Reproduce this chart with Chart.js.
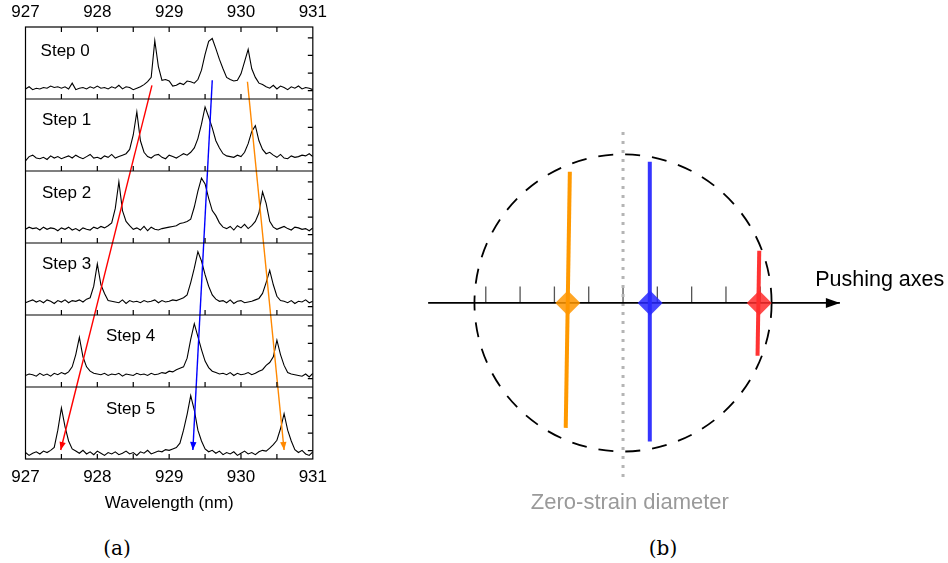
<!DOCTYPE html>
<html>
<head>
<meta charset="utf-8">
<script src="https://cdn.jsdelivr.net/npm/chart.js@4.4.1/dist/chart.umd.min.js"></script>
<style>
  body { margin: 0; background: #fff; width: 948px; height: 563px; position: relative; overflow: hidden; }
  #specs { position: absolute; left: 0; top: 0; }
  #sketch { position: absolute; left: 400px; top: 97px; }
  .cap { position: absolute; top: 536px; width: 100px; text-align: center; line-height: 24px;
         font-family: "DejaVu Serif", "Liberation Serif", serif; font-size: 20px; color: #000; }
</style>
</head>
<body>
<canvas id="specs" width="335" height="520"></canvas>
<canvas id="sketch" width="549" height="429"></canvas>
<div class="cap" style="left:67px">(a)</div>
<div class="cap" style="left:613px">(b)</div>
<script>
// ---- panel (a): spectra, normalised to the height of each step panel ----
const wavelength = [
  927.00, 927.05, 927.10, 927.15, 927.20, 927.25, 927.30, 927.35, 927.40, 927.45,
  927.50, 927.55, 927.60, 927.65, 927.70, 927.75, 927.80, 927.85, 927.90, 927.95,
  928.00, 928.05, 928.10, 928.15, 928.20, 928.25, 928.30, 928.35, 928.40, 928.45,
  928.50, 928.55, 928.60, 928.65, 928.70, 928.75, 928.80, 928.85, 928.90, 928.95,
  929.00, 929.05, 929.10, 929.15, 929.20, 929.25, 929.30, 929.35, 929.40, 929.45,
  929.50, 929.55, 929.60, 929.65, 929.70, 929.75, 929.80, 929.85, 929.90, 929.95,
  930.00, 930.05, 930.10, 930.15, 930.20, 930.25, 930.30, 930.35, 930.40, 930.45,
  930.50, 930.55, 930.60, 930.65, 930.70, 930.75, 930.80, 930.85, 930.90, 930.95,
  931.00
];

const step0 = [
  0.14, 0.17, 0.13, 0.15, 0.14, 0.16, 0.15, 0.18, 0.16, 0.17,
  0.15, 0.17, 0.14, 0.22, 0.13, 0.15, 0.16, 0.14, 0.17, 0.15,
  0.18, 0.15, 0.16, 0.14, 0.17, 0.15, 0.19, 0.14, 0.17, 0.16,
  0.13, 0.15, 0.17, 0.20, 0.24, 0.30, 0.81, 0.45, 0.26, 0.27,
  0.25, 0.18, 0.19, 0.22, 0.20, 0.25, 0.24, 0.22, 0.27, 0.40,
  0.62, 0.80, 0.84, 0.70, 0.55, 0.42, 0.30, 0.27, 0.25, 0.26,
  0.35, 0.52, 0.69, 0.42, 0.30, 0.22, 0.20, 0.17, 0.15, 0.19,
  0.14, 0.18, 0.16, 0.13, 0.17, 0.15, 0.18, 0.14, 0.16, 0.15,
  0.13
];
const step1 = [
  0.14, 0.20, 0.22, 0.18, 0.17, 0.19, 0.16, 0.21, 0.18, 0.20,
  0.17, 0.19, 0.21, 0.18, 0.22, 0.19, 0.17, 0.20, 0.23, 0.18,
  0.19, 0.17, 0.21, 0.19, 0.23, 0.18, 0.20, 0.22, 0.24, 0.30,
  0.50, 0.82, 0.42, 0.26, 0.20, 0.18, 0.22, 0.23, 0.19, 0.17,
  0.22, 0.20, 0.18, 0.21, 0.24, 0.22, 0.26, 0.32, 0.45, 0.65,
  0.89, 0.75, 0.60, 0.42, 0.32, 0.24, 0.21, 0.20, 0.19, 0.22,
  0.20, 0.26, 0.38, 0.55, 0.63, 0.42, 0.30, 0.24, 0.26, 0.22,
  0.19, 0.23, 0.18, 0.17, 0.21, 0.19, 0.20, 0.22, 0.21, 0.24,
  0.20
];
const step2 = [
  0.19, 0.22, 0.20, 0.21, 0.18, 0.22, 0.19, 0.21, 0.20, 0.17,
  0.21, 0.19, 0.22, 0.18, 0.20, 0.17, 0.21, 0.19, 0.18, 0.22,
  0.20, 0.23, 0.21, 0.24, 0.28, 0.48, 0.85, 0.45, 0.30, 0.24,
  0.19, 0.21, 0.18, 0.23, 0.17, 0.22, 0.19, 0.18, 0.20, 0.21,
  0.22, 0.23, 0.24, 0.27, 0.28, 0.30, 0.33, 0.50, 0.72, 0.90,
  0.82, 0.62, 0.45, 0.38, 0.28, 0.22, 0.20, 0.23, 0.18, 0.24,
  0.21, 0.26, 0.20, 0.24, 0.30, 0.42, 0.71, 0.55, 0.30, 0.22,
  0.19, 0.21, 0.23, 0.20, 0.18, 0.22, 0.21, 0.19, 0.20, 0.17,
  0.21
];
const step3 = [
  0.17, 0.19, 0.21, 0.18, 0.20, 0.17, 0.21, 0.19, 0.16, 0.20,
  0.18, 0.21, 0.17, 0.20, 0.19, 0.21, 0.18, 0.22, 0.24, 0.40,
  0.71, 0.42, 0.30, 0.20, 0.19, 0.18, 0.17, 0.21, 0.16, 0.20,
  0.18, 0.19, 0.17, 0.20, 0.18, 0.19, 0.21, 0.17, 0.20, 0.18,
  0.19, 0.21, 0.20, 0.22, 0.24, 0.28, 0.45, 0.65, 0.88, 0.75,
  0.56, 0.40, 0.28, 0.22, 0.19, 0.20, 0.17, 0.21, 0.16, 0.19,
  0.20, 0.17, 0.18, 0.19, 0.21, 0.23, 0.30, 0.45, 0.62, 0.42,
  0.26, 0.20, 0.19, 0.17, 0.20, 0.16, 0.19, 0.18, 0.21, 0.17,
  0.19
];
const step4 = [
  0.16, 0.18, 0.17, 0.15, 0.19, 0.16, 0.18, 0.15, 0.19, 0.17,
  0.20, 0.18, 0.21, 0.28, 0.45, 0.69, 0.42, 0.28, 0.22, 0.19,
  0.18, 0.17, 0.19, 0.16, 0.18, 0.17, 0.19, 0.15, 0.18, 0.17,
  0.16, 0.19, 0.17, 0.18, 0.16, 0.19, 0.17, 0.18, 0.20, 0.19,
  0.22, 0.21, 0.24, 0.26, 0.28, 0.40, 0.66, 0.88, 0.70, 0.52,
  0.36, 0.27, 0.22, 0.20, 0.18, 0.19, 0.17, 0.20, 0.16, 0.19,
  0.17, 0.18, 0.20, 0.17, 0.19, 0.22, 0.24, 0.30, 0.34, 0.42,
  0.65, 0.45, 0.30, 0.20, 0.18, 0.17, 0.16, 0.15, 0.18, 0.14,
  0.19
];
const step5 = [
  0.09, 0.05, 0.08, 0.10, 0.07, 0.11, 0.09, 0.12, 0.16, 0.40,
  0.71, 0.45, 0.25, 0.14, 0.11, 0.08, 0.12, 0.07, 0.10, 0.06,
  0.11, 0.08, 0.05, 0.09, 0.07, 0.10, 0.06, 0.08, 0.11, 0.07,
  0.09, 0.05, 0.10, 0.08, 0.12, 0.07, 0.09, 0.11, 0.10, 0.13,
  0.12, 0.14, 0.16, 0.22, 0.40, 0.62, 0.88, 0.68, 0.40, 0.25,
  0.14, 0.10, 0.12, 0.08, 0.11, 0.06, 0.09, 0.07, 0.10, 0.05,
  0.08, 0.11, 0.07, 0.09, 0.06, 0.10, 0.12, 0.11, 0.15, 0.20,
  0.26, 0.42, 0.63, 0.40, 0.25, 0.13, 0.09, 0.12, 0.07, 0.05,
  0.10
];

const steps = [step0, step1, step2, step3, step4, step5];
const stepNames = ['Step 0', 'Step 1', 'Step 2', 'Step 3', 'Step 4', 'Step 5'];
const stepNameX = [927.21, 927.23, 927.23, 927.23, 928.12, 928.12];
const stepNameY = [0.66, 0.70, 0.69, 0.71, 0.70, 0.69];

const wlTicks = [927, 928, 929, 930, 931];
const wlMinor = [927.5, 928, 928.5, 929, 929.5, 930, 930.5];
const sideTicks = [0.115, 0.36, 0.605, 0.85];

// peak-tracking arrows: [start, end]
const redArrowX = [928.76, 927.49];
const redArrowY = [5.19, 0.125];
const blueArrowX = [929.60, 929.33];
const blueArrowY = [5.26, 0.125];
const orangeArrowX = [930.09, 930.60];
const orangeArrowY = [5.24, 0.125];

// ---- panel (b): sketch in tick units ----
const circleRadius = 4.33;
const axisX = [-5.68, 6.32];
const axisTicks = [-4, -3, -2, -1, 0, 1, 2, 3, 4];
const zeroStrainY = [4.98, -5.25];
const markerNames = ['orange', 'blue', 'red'];
const markerX = [-1.61, 0.79, 3.97];
const lineTopX = [-1.55, 0.78, 3.97];
const lineBottomX = [-1.67, 0.78, 3.92];
const lineTopY = [3.82, 4.11, 1.52];
const lineBottomY = [-3.64, -4.04, -1.54];
const lineColors = ['#ff9900', '#3535ff', '#ff3333'];
const markerColors = ['rgba(255,150,0,0.85)', 'rgba(40,40,255,0.85)', 'rgba(255,45,45,0.85)'];

const sans = '"Liberation Sans", Arial, sans-serif';

function drawHead(ctx, p1, p2, len, half, color) {
  const ang = Math.atan2(p2.y - p1.y, p2.x - p1.x);
  ctx.save();
  ctx.fillStyle = color;
  ctx.translate(p2.x, p2.y);
  ctx.rotate(ang);
  ctx.beginPath();
  ctx.moveTo(0, 0);
  ctx.lineTo(-len, -half);
  ctx.lineTo(-len, half);
  ctx.closePath();
  ctx.fill();
  ctx.restore();
}

function arrowHeads(chart) {
  chart.data.datasets.forEach((ds, i) => {
    if (!ds.arrowHead) return;
    const pts = chart.getDatasetMeta(i).data;
    drawHead(chart.ctx, pts[pts.length - 2], pts[pts.length - 1], ds.arrowHead[0], ds.arrowHead[1], ds.borderColor);
  });
}

const framePlugin = {
  id: 'frame',
  afterDraw(chart) {
    const { ctx, chartArea: a, scales: { x, y } } = chart;
    ctx.save();
    ctx.strokeStyle = '#000';
    ctx.lineWidth = 1.2;
    ctx.strokeRect(a.left, a.top, a.width, a.height);
    ctx.beginPath();
    for (let k = 0; k < steps.length; k++) {
      const py = y.getPixelForValue(k);
      if (k > 0) { ctx.moveTo(a.left, py); ctx.lineTo(a.right, py); }
      wlMinor.forEach(v => {
        const px = x.getPixelForValue(v);
        ctx.moveTo(px, py); ctx.lineTo(px, py - 5);
      });
      sideTicks.forEach(f => {
        const ty = y.getPixelForValue(k + f);
        ctx.moveTo(a.right, ty); ctx.lineTo(a.right - 5, ty);
      });
    }
    wlMinor.forEach(v => {
      const px = x.getPixelForValue(v);
      ctx.moveTo(px, a.top); ctx.lineTo(px, a.top + 5);
    });
    ctx.stroke();

    ctx.fillStyle = '#000';
    ctx.font = '17px ' + sans;
    ctx.textBaseline = 'middle';
    stepNames.forEach((name, k) => {
      const row = steps.length - 1 - k;
      ctx.fillText(name, x.getPixelForValue(stepNameX[k]), y.getPixelForValue(row + stepNameY[k]));
    });
    ctx.restore();
    arrowHeads(chart);
  }
};

const spectraSets = steps.map((vals, k) => ({
  data: wavelength.map((w, i) => ({ x: w, y: vals[i] + (steps.length - 1 - k) })),
  borderColor: '#000',
  borderWidth: 1.1,
  pointRadius: 0,
  tension: 0
}));

function arrowSet(xs, ys, color) {
  return {
    data: xs.map((v, i) => ({ x: v, y: ys[i] })),
    borderColor: color,
    borderWidth: 1.4,
    pointRadius: 0,
    arrowHead: [8, 3.2]
  };
}

const axisFont = { family: sans, size: 17 };

new Chart(document.getElementById('specs'), {
  type: 'line',
  data: {
    datasets: [
      arrowSet(redArrowX, redArrowY, '#ff0000'),
      arrowSet(blueArrowX, blueArrowY, '#0000ff'),
      arrowSet(orangeArrowX, orangeArrowY, '#ff8800'),
      ...spectraSets
    ]
  },
  options: {
    responsive: false,
    animation: false,
    events: [],
    layout: { autoPadding: false, padding: { left: 25.5, right: 21.5, top: 0, bottom: 0 } },
    plugins: { legend: { display: false }, tooltip: { enabled: false } },
    scales: {
      x: {
        type: 'linear', position: 'bottom', min: 927, max: 931,
        afterBuildTicks: s => { s.ticks = wlTicks.map(v => ({ value: v })); },
        grid: { display: false, drawTicks: false },
        border: { display: false },
        ticks: { padding: 8, font: axisFont, color: '#000', maxRotation: 0 },
        title: { display: true, text: 'Wavelength (nm)', font: axisFont, color: '#000', padding: { top: 0, bottom: 6 } },
        afterFit: s => { s.height = 61; }
      },
      xTop: {
        type: 'linear', position: 'top', min: 927, max: 931,
        afterBuildTicks: s => { s.ticks = wlTicks.map(v => ({ value: v })); },
        grid: { display: false, drawTicks: false },
        border: { display: false },
        ticks: { padding: 4, font: axisFont, color: '#000', maxRotation: 0 },
        afterFit: s => { s.height = 27; }
      },
      y: { type: 'linear', min: 0, max: 6, display: false }
    }
  },
  plugins: [framePlugin]
});

// ---- panel (b) ----
const sketchPlugin = {
  id: 'sketch',
  beforeDatasetsDraw(chart) {
    const { ctx, scales: { x, y } } = chart;
    const cx = x.getPixelForValue(0), cy = y.getPixelForValue(0);
    const r = x.getPixelForValue(circleRadius) - cx;
    ctx.save();
    ctx.strokeStyle = '#000';
    ctx.lineWidth = 1.8;
    ctx.setLineDash([15, 12]);
    ctx.beginPath();
    ctx.arc(cx, cy, r, 0, Math.PI * 2);
    ctx.stroke();
    ctx.setLineDash([]);
    ctx.strokeStyle = '#555';
    ctx.lineWidth = 1.3;
    ctx.beginPath();
    axisTicks.forEach(v => {
      const px = x.getPixelForValue(v);
      ctx.moveTo(px, cy); ctx.lineTo(px, y.getPixelForValue(0.48));
    });
    ctx.stroke();
    ctx.restore();
  },
  afterDraw(chart) {
    const { ctx, scales: { x, y } } = chart;
    arrowHeads(chart);
    ctx.save();
    ctx.textBaseline = 'middle';
    ctx.fillStyle = '#000';
    ctx.font = '21.5px ' + sans;
    ctx.fillText('Pushing axes', x.getPixelForValue(5.6), y.getPixelForValue(0.67));
    ctx.fillStyle = '#9a9a9a';
    ctx.font = '22px ' + sans;
    ctx.textAlign = 'center';
    ctx.fillText('Zero-strain diameter', x.getPixelForValue(0.2), y.getPixelForValue(-5.83));
    ctx.restore();
  }
};

const strainLines = markerNames.map((n, i) => ({
  type: 'line',
  data: [{ x: lineTopX[i], y: lineTopY[i] }, { x: lineBottomX[i], y: lineBottomY[i] }],
  borderColor: lineColors[i],
  borderWidth: 4,
  pointRadius: 0,
  order: 2
}));

new Chart(document.getElementById('sketch'), {
  type: 'scatter',
  data: {
    datasets: [
      {
        data: markerX.map(v => ({ x: v, y: 0 })),
        pointStyle: 'rectRot',
        pointRadius: 12.5,
        backgroundColor: markerColors,
        borderWidth: 0,
        order: 1
      },
      ...strainLines,
      {
        type: 'line',
        data: axisX.map(v => ({ x: v, y: 0 })),
        borderColor: '#000',
        borderWidth: 1.6,
        pointRadius: 0,
        arrowHead: [14, 5],
        order: 3
      },
      {
        type: 'line',
        data: zeroStrainY.map(v => ({ x: 0, y: v })),
        borderColor: '#b4b4b4',
        borderWidth: 3,
        borderDash: [3, 6],
        pointRadius: 0,
        order: 4
      }
    ]
  },
  options: {
    responsive: false,
    animation: false,
    events: [],
    layout: { autoPadding: false, padding: 0 },
    plugins: { legend: { display: false }, tooltip: { enabled: false } },
    scales: {
      x: { type: 'linear', min: -6.5, max: 9.5, display: false },
      y: { type: 'linear', min: -6.5, max: 6, display: false }
    }
  },
  plugins: [sketchPlugin]
});
</script>
</body>
</html>
